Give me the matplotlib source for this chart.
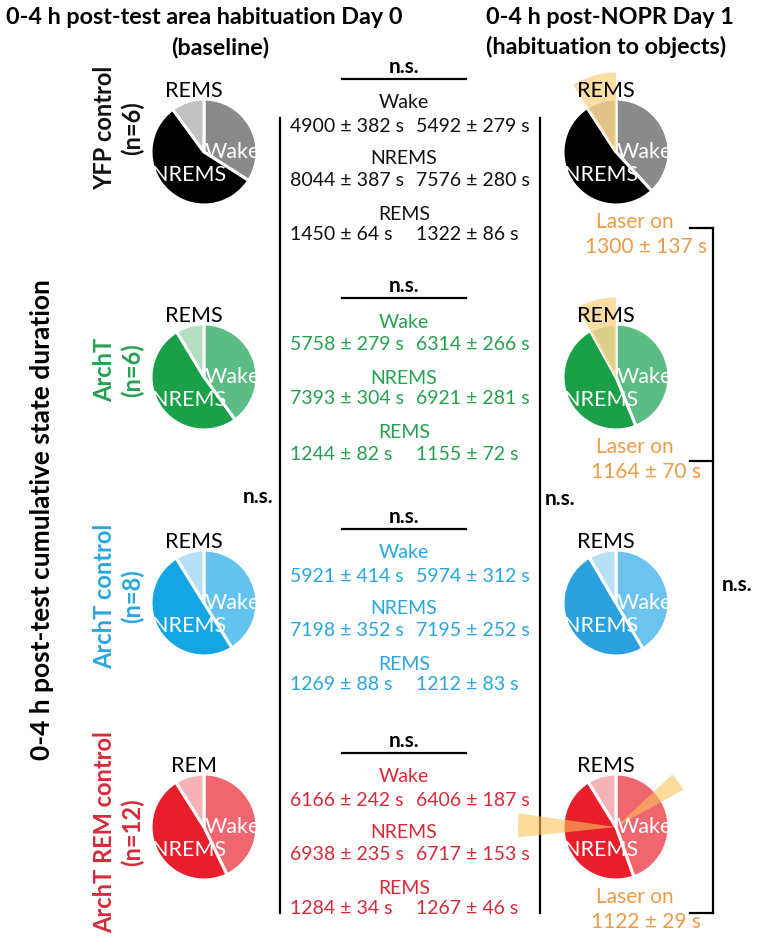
import matplotlib
matplotlib.use("Agg")
import matplotlib.pyplot as plt
from matplotlib.patches import Wedge

plt.rcParams['font.family'] = ['Lato', 'DejaVu Sans']

# ---- data -----------------------------------------------------------------
groups = ["YFP control", "ArchT", "ArchT control", "ArchT REM control"]
group_n = ["(n=6)", "(n=6)", "(n=8)", "(n=12)"]
states = ["Wake", "NREMS", "REMS"]
top_label_day0 = ["REMS", "REMS", "REMS", "REM"]

day0_mean = [[4900, 8044, 1450], [5758, 7393, 1244], [5921, 7198, 1269], [6166, 6938, 1284]]
day0_sem = [[382, 387, 64], [279, 304, 82], [414, 352, 88], [242, 235, 34]]
day1_mean = [[5492, 7576, 1322], [6314, 6921, 1155], [5974, 7195, 1212], [6406, 6717, 1267]]
day1_sem = [[279, 280, 86], [266, 281, 72], [312, 252, 83], [187, 153, 46]]
laser_mean = [1300, 1164, None, 1122]
laser_sem = [137, 70, None, 29]

title_day0 = ["0-4 h post-test area habituation Day 0", "(baseline)"]
title_day1 = ["0-4 h post-NOPR Day 1", "(habituation to objects)"]
ylabel = "0-4 h post-test cumulative state duration"

# ---- styles ---------------------------------------------------------------
pie_colors_day0 = [["#8a8a8a", "#000000", "#c2c2c2"],
                   ["#5cbd84", "#1ba04a", "#b3dec3"],
                   ["#63c3ee", "#14a6e2", "#b5e0f5"],
                   ["#f0666f", "#e81e2c", "#f5b3b8"]]
pie_colors_day1 = [["#8a8a8a", "#000000", "#c2c2c2"],
                   ["#5cbd84", "#1ba04a", "#b3dec3"],
                   ["#6cc4ee", "#2aa0dc", "#b8e1f5"],
                   ["#f0666f", "#e81e2c", "#f5b3b8"]]
text_colors = ["#111111", "#25a050", "#2aa6de", "#d62a3b"]
laser_color = "#ec9b48"
laser_fill = "#fbc35a"

W, H = 757, 936
fig = plt.figure(figsize=(W / 100, H / 100), dpi=100)
ax = fig.add_axes([0, 0, 1, 1])


def Y(p):
    return H - p


pie_y = [152, 377, 603, 827]
pie_x0, pie_x1 = 204, 616
radius = 53
text_y0 = [103, 322, 553, 777]
row_off = [0, 23, 56, 77, 111, 132]

FS = 14
FSB = 16.8

for g in range(4):
    cy = pie_y[g]
    for cx, vals, cols, toplab in ((pie_x0, day0_mean[g], pie_colors_day0[g], top_label_day0[g]),
                                   (pie_x1, day1_mean[g], pie_colors_day1[g], "REMS")):
        ax.pie(vals, colors=cols, startangle=90, counterclock=False,
               center=(cx, Y(cy)), radius=radius, frame=True,
               wedgeprops=dict(edgecolor="white", linewidth=2.2))
        ax.text(cx + 28, Y(cy + 0), "Wake", color="white", fontsize=15.5,
                ha="center", va="center", zorder=6)
        ax.text(cx - 15, Y(cy + 23), "NREMS", color="white", fontsize=15.5,
                ha="center", va="center", zorder=6)
        ax.text(cx - 10, Y(cy - 61), toplab, color="black", fontsize=15.5,
                ha="center", va="center", zorder=6)

    # laser-on wedges on the Day 1 pies
    if laser_mean[g] is not None:
        total = sum(day1_mean[g])
        span = laser_mean[g] / total * 360
        if g < 2:
            ax.add_patch(Wedge((pie_x1, Y(cy)), radius * 1.5, 90, 90 + span,
                               facecolor=laser_fill, alpha=0.55, edgecolor="none", zorder=5))
        else:
            ax.add_patch(Wedge((pie_x1, Y(cy)), radius * 1.45, 29, 29 + span / 2,
                               facecolor=laser_fill, alpha=0.6, edgecolor="none", zorder=5))
            ax.add_patch(Wedge((pie_x1, Y(cy)), radius * 1.85, 172, 172 + span / 2,
                               facecolor=laser_fill, alpha=0.6, edgecolor="none", zorder=5))
        ax.text(pie_x1 + 19, Y(cy + 70), "Laser on", color=laser_color, fontsize=15,
                ha="center", va="center")
        ax.text(pie_x1 + 30, Y(cy + 95), f"{laser_mean[g]} \u00b1 {laser_sem[g]} s",
                color=laser_color, fontsize=15, ha="center", va="center")

    # middle column: statistics per state
    ty = text_y0[g]
    c = text_colors[g]
    ax.text(404, Y(ty - 36), "n.s.", fontsize=15, fontweight="bold", ha="center",
            va="center", color="black")
    ax.plot([342, 466], [Y(ty - 24), Y(ty - 24)], color="black", lw=1.6)
    for s in range(3):
        ax.text(404, Y(ty + row_off[2 * s]), states[s], color=c, fontsize=FS,
                ha="center", va="center")
        vy = Y(ty + row_off[2 * s + 1])
        ax.text(290, vy, f"{day0_mean[g][s]} \u00b1 {day0_sem[g][s]} s", color=c,
                fontsize=FS, ha="left", va="center")
        ax.text(416, vy, f"{day1_mean[g][s]} \u00b1 {day1_sem[g][s]} s", color=c,
                fontsize=FS, ha="left", va="center")

    # group names
    gy = Y(cy - 24 if g == 0 else (cy + 5 if g == 3 else cy - 7))
    ax.text(105, gy, groups[g], rotation=90, color=c,
            fontsize=17, fontweight="bold", ha="center", va="center")
    ax.text(132, gy, group_n[g], rotation=90, color=c,
            fontsize=17, fontweight="bold", ha="center", va="center")

# vertical comparison lines
ax.plot([280, 280], [Y(118), Y(913)], color="black", lw=1.6)
ax.plot([540, 540], [Y(118), Y(913)], color="black", lw=1.6)
ax.text(273, Y(497), "n.s.", fontsize=15, fontweight="bold", ha="right", va="center")
ax.text(545, Y(499), "n.s.", fontsize=15, fontweight="bold", ha="left", va="center")

# laser-on comparison bracket
brk_y = [228, 461, 913]
ax.plot([713, 713], [Y(brk_y[0]), Y(brk_y[-1])], color="black", lw=1.6)
for by in brk_y:
    ax.plot([690, 713], [Y(by), Y(by)], color="black", lw=1.6)
ax.text(722, Y(585), "n.s.", fontsize=15, fontweight="bold", ha="left", va="center")

# headings
ax.text(204, Y(17), title_day0[0], fontsize=FSB, fontweight="bold", ha="center", va="center")
ax.text(220, Y(47), title_day0[1], fontsize=FSB, fontweight="bold", ha="center", va="center")
ax.text(610, Y(17), title_day1[0], fontsize=FSB, fontweight="bold", ha="center", va="center")
ax.text(606, Y(47), title_day1[1], fontsize=FSB, fontweight="bold", ha="center", va="center")
ax.text(42, Y(520), ylabel, rotation=90, fontsize=19, fontweight="bold",
        ha="center", va="center")

ax.set_xlim(0, W)
ax.set_ylim(0, H)
ax.set_aspect("auto")
ax.axis("off")
fig.savefig("out.png", dpi=100)
